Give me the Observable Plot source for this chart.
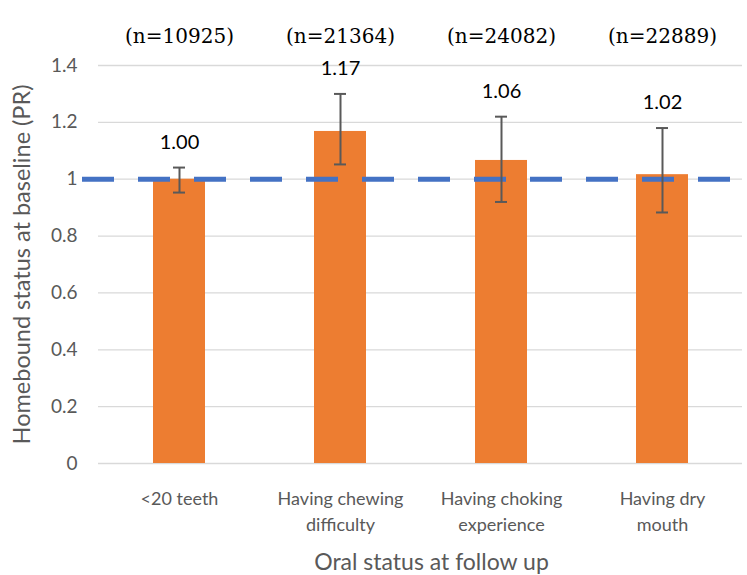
<!DOCTYPE html>
<html>
<head>
<meta charset="utf-8">
<script src="https://cdn.jsdelivr.net/npm/d3@7"></script>
<script src="https://cdn.jsdelivr.net/npm/@observablehq/plot@0.6"></script>
<style>
  html, body { margin: 0; padding: 0; background: #fff; }
  #chart svg { display: block; }
</style>
</head>
<body>
<div id="chart"></div>
<script>
const categories = ["<20 teeth", "Having chewing\ndifficulty", "Having choking\nexperience", "Having dry\nmouth"];
const prValues = [1.00, 1.168, 1.066, 1.016];
const ciLow = [0.953, 1.052, 0.92, 0.883];
const ciHigh = [1.041, 1.30, 1.22, 1.18];
const valueLabels = ["1.00", "1.17", "1.06", "1.02"];
const sampleLabels = ["(n=10925)", "(n=21364)", "(n=24082)", "(n=22889)"];
const yTicks = [0, 0.2, 0.4, 0.6, 0.8, 1, 1.2, 1.4];
const referenceLine = [1];

const rows = categories.map((c, i) => ({
  cat: c, pr: prValues[i], lo: ciLow[i], hi: ciHigh[i],
  label: valueLabels[i], n: sampleLabels[i]
}));

const sans = "Lato, Carlito, 'Liberation Sans', sans-serif";
const serif = "'DejaVu Serif', 'Liberation Serif', serif";

const chart = Plot.plot({
  width: 747,
  height: 575,
  marginLeft: 98,
  marginRight: 5,
  marginTop: 65,
  marginBottom: 112,
  style: { fontFamily: sans, background: "#fff" },
  x: { domain: categories, paddingInner: 0.68, paddingOuter: 0.34, label: null },
  y: { domain: [0, 1.4], label: null },
  marks: [
    Plot.ruleY(yTicks, { stroke: "#d9d9d9", strokeWidth: 1.3 }),
    Plot.barY(rows, { x: "cat", y: "pr", fill: "#ED7D31" }),
    Plot.ruleY(referenceLine, { stroke: "#4472C4", strokeWidth: 5, strokeDasharray: "32,24", insetLeft: -16 }),
    Plot.ruleX(rows, { x: "cat", y1: "lo", y2: "hi", stroke: "#595959", strokeWidth: 2 }),
    Plot.tickY(rows, { x: "cat", y: "lo", stroke: "#595959", strokeWidth: 2, insetLeft: 20, insetRight: 20 }),
    Plot.tickY(rows, { x: "cat", y: "hi", stroke: "#595959", strokeWidth: 2, insetLeft: 20, insetRight: 20 }),
    Plot.text(rows, { x: "cat", y: "hi", text: "label", dy: -25, fontSize: 20, fill: "#000" }),
    Plot.text(rows, { x: "cat", text: "n", frameAnchor: "top", dy: -37, fontSize: 20, fontFamily: serif, fill: "#000" }),
    Plot.axisY({
      ticks: yTicks, tickSize: 0, tickPadding: 21, tickFormat: d => String(d),
      fontSize: 19, color: "#595959",
      label: "Homebound status at baseline (PR)", labelAnchor: "center", labelArrow: "none", labelOffset: 85
    }),
    Plot.axisX({
      tickSize: 0, tickPadding: 23, fontSize: 18, color: "#595959",
      lineHeight: 1.45,
      label: "Oral status at follow up", labelAnchor: "center", labelArrow: "none", labelOffset: 106
    })
  ]
});

chart.querySelectorAll("[aria-label='y-axis label'] text").forEach(t => t.style.fontSize = "23.5px");
chart.querySelectorAll("[aria-label='x-axis label'] text").forEach(t => { t.style.fontSize = "23px"; t.setAttribute("dx", "11"); });
document.getElementById("chart").appendChild(chart);
</script>
</body>
</html>
